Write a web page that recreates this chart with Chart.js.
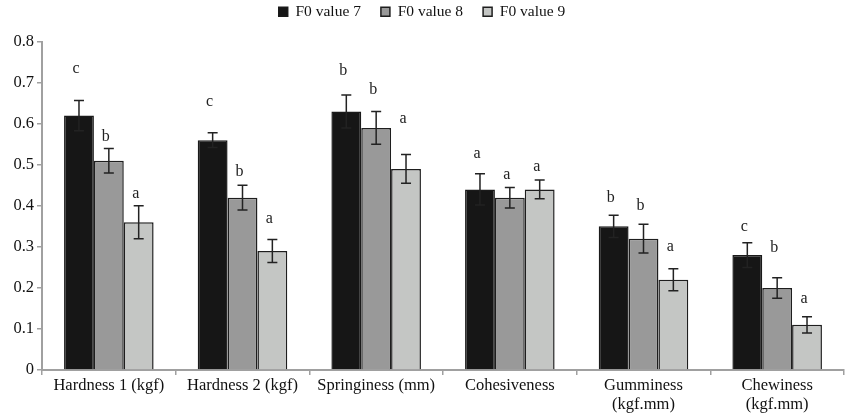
<!DOCTYPE html>
<html>
<head>
<meta charset="utf-8">
<script src="https://cdn.jsdelivr.net/npm/chart.js@4"></script>
<style>
  html, body { margin: 0; padding: 0; background: #fff; }
  #wrap { width: 847px; height: 414px; }
</style>
</head>
<body>
<div id="wrap"><canvas id="chart-bars" width="847" height="414"></canvas></div>
<script>
// data
const categories = ['Hardness 1 (kgf)', 'Hardness 2 (kgf)', 'Springiness (mm)', 'Cohesiveness',
    ['Gumminess', '(kgf.mm)'], ['Chewiness', '(kgf.mm)']];
const seriesNames = ['F0 value 7', 'F0 value 8', 'F0 value 9'];

const f07 = [0.62, 0.56, 0.63, 0.44, 0.35, 0.28];
const f08 = [0.51, 0.42, 0.59, 0.42, 0.32, 0.20];
const f09 = [0.36, 0.29, 0.49, 0.44, 0.22, 0.11];

const err07 = [0.037, 0.018, 0.040, 0.038, 0.027, 0.030];
const err08 = [0.030, 0.030, 0.040, 0.025, 0.035, 0.025];
const err09 = [0.040, 0.028, 0.035, 0.023, 0.027, 0.020];

// significance letters and the height they sit at
const letters07 = ['c', 'c', 'b', 'a', 'b', 'c'];
const letters08 = ['b', 'b', 'b', 'a', 'b', 'b'];
const letters09 = ['a', 'a', 'a', 'a', 'a', 'a'];
const letterY07 = [0.734, 0.654, 0.729, 0.527, 0.420, 0.349];
const letterY08 = [0.568, 0.483, 0.683, 0.476, 0.400, 0.298];
const letterY09 = [0.429, 0.368, 0.612, 0.495, 0.300, 0.173];

const yTicks = [0, 0.1, 0.2, 0.3, 0.4, 0.5, 0.6, 0.7, 0.8];

const FONT = '"Liberation Serif", "Times New Roman", serif';
const extras = [
    { err: err07, letters: letters07, letterY: letterY07 },
    { err: err08, letters: letters08, letterY: letterY08 },
    { err: err09, letters: letters09, letterY: letterY09 }
];

const data = {
    labels: categories,
    datasets: [{
        label: seriesNames[0],
        data: f07,
        backgroundColor: '#161616',
        borderColor: '#1a1a1a',
        borderWidth: 1.5
    },
    {
        label: seriesNames[1],
        data: f08,
        backgroundColor: '#999999',
        borderColor: '#1e1e1e',
        borderWidth: 1.5
    },
    {
        label: seriesNames[2],
        data: f09,
        backgroundColor: '#c4c6c4',
        borderColor: '#1e1e1e',
        borderWidth: 1.5
    }]
};

// error bars + letters
const errorBars = {
    id: 'errorBars',
    afterDatasetsDraw(chart) {
        const ctx = chart.ctx;
        const y = chart.scales.y;
        ctx.save();
        chart.data.datasets.forEach((ds, i) => {
            const meta = chart.getDatasetMeta(i);
            const ex = extras[i];
            meta.data.forEach((bar, j) => {
                const v = ds.data[j];
                const top = y.getPixelForValue(v + ex.err[j]);
                const bot = y.getPixelForValue(v - ex.err[j]);
                const x = bar.x;
                ctx.strokeStyle = '#222';
                ctx.lineWidth = 1.5;
                ctx.beginPath();
                ctx.moveTo(x, top); ctx.lineTo(x, bot);
                ctx.moveTo(x - 5, top); ctx.lineTo(x + 5, top);
                ctx.moveTo(x - 5, bot); ctx.lineTo(x + 5, bot);
                ctx.stroke();

                ctx.fillStyle = '#222';
                ctx.font = '16px ' + FONT;
                ctx.textAlign = 'center';
                ctx.textBaseline = 'middle';
                ctx.fillText(ex.letters[j], x - 3, y.getPixelForValue(ex.letterY[j]));
            });
        });
        ctx.restore();
    }
};

const config = {
    type: 'bar',
    data,
    options: {
        responsive: false,
        animation: false,
        layout: { padding: { top: -16, right: 3, left: 0, bottom: 0 } },
        datasets: {
            bar: { categoryPercentage: 0.67, barPercentage: 1.0 }
        },
        plugins: {
            legend: {
                position: 'top',
                weight: 1000,
                labels: {
                    boxWidth: 9,
                    boxHeight: 9,
                    padding: 20,
                    color: '#111',
                    font: { family: FONT, size: 15.5 }
                }
            },
            // empty spacer between legend and plot
            title: {
                display: true,
                text: '',
                position: 'top',
                weight: 500,
                font: { size: 1 },
                padding: { top: 0, bottom: 11 }
            },
            tooltip: { enabled: false }
        },
        scales: {
            x: {
                grid: {
                    display: true,
                    drawOnChartArea: false,
                    drawTicks: true,
                    tickLength: 5,
                    color: '#a0a0a0',
                    lineWidth: 1.5
                },
                border: { color: '#a0a0a0', width: 2 },
                ticks: {
                    color: '#111',
                    padding: 2,
                    maxRotation: 0,
                    autoSkip: false,
                    font: { family: FONT, size: 16.5, lineHeight: 1.1 }
                },
                afterFit(scale) { scale.height = 44; }
            },
            y: {
                min: 0,
                max: 0.8,
                afterBuildTicks(scale) { scale.ticks = yTicks.map(v => ({ value: v })); },
                grid: {
                    display: true,
                    drawOnChartArea: false,
                    drawTicks: true,
                    tickLength: 5,
                    color: '#a0a0a0',
                    lineWidth: 1.5
                },
                border: { color: '#a0a0a0', width: 2 },
                ticks: {
                    color: '#111',
                    padding: 3,
                    font: { family: FONT, size: 16.5 },
                    callback: v => String(Math.round(v * 10) / 10)
                },
                afterFit(scale) { scale.width = 42; }
            }
        }
    },
    plugins: [errorBars]
};

// render init block
const myChart = new Chart(
    document.getElementById('chart-bars'),
    config
);
</script>
</body>
</html>
